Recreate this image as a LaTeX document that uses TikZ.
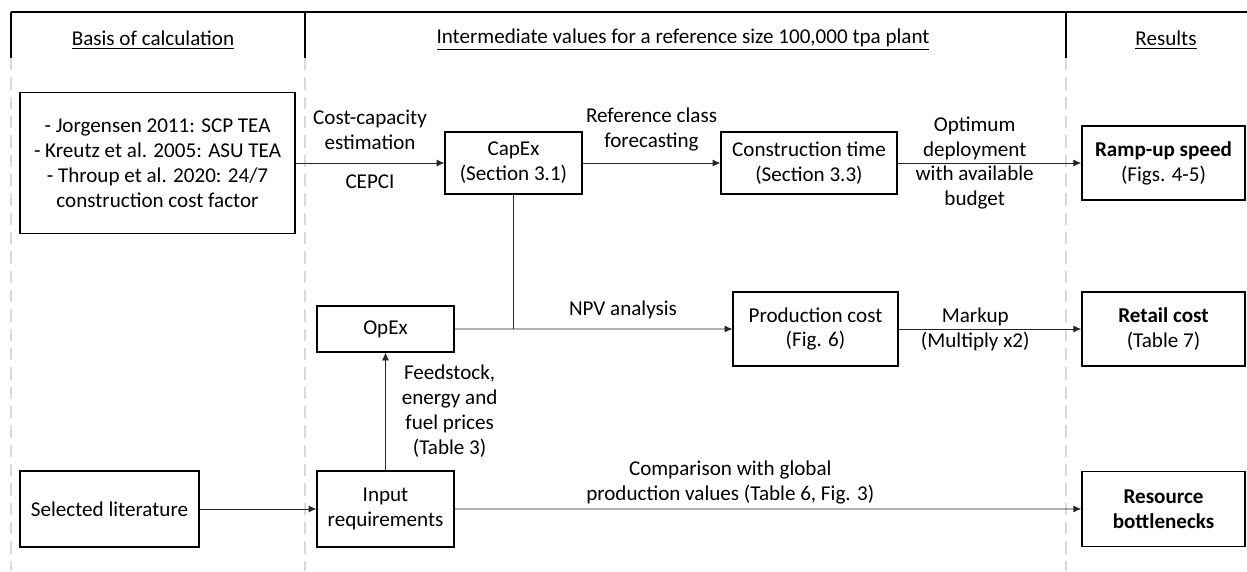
\documentclass[tikz,border=0pt]{standalone}
\usepackage{fontspec}
\setmainfont{Carlito}
\usetikzlibrary{positioning, arrows.meta}

\begin{document}
\begin{tikzpicture}[>={Latex[length=4.5pt,width=4pt]}, node distance=3cm, on grid,
    font=\fontsize{12}{14.2}\selectfont,
    box/.style={draw, line width=0.6pt, align=center, inner sep=0pt},
    result/.style={box, line width=0.9pt, minimum width=3.26cm},
    flow/.style={->, line width=0.5pt, draw=black!85},
    divider/.style={line width=1.1pt, black!15, dash pattern=on 7pt off 4pt}]
    \useasboundingbox (0,0) rectangle (24.94,-11.42);

    % header and column dividers
    \draw[line width=1.2pt] (0.22,-0.24) -- (24.94,-0.24);
    \draw[line width=1pt] (0.22,-0.24) -- (0.22,-1.16);
    \draw[line width=1pt] (6.1,-0.24) -- (6.1,-1.16);
    \draw[line width=1pt] (21.32,-0.24) -- (21.32,-1.16);
    \draw[divider] (0.22,-1.16) -- (0.22,-11.42);
    \draw[divider] (6.1,-1.16) -- (6.1,-11.42);
    \draw[divider] (21.32,-1.16) -- (21.32,-11.42);

    \node (hbasis) at (3.06,-0.8) {\underline{Basis of calculation}};
    \node (hinter) at (13.66,-0.8) {\underline{Intermediate values for a reference size 100,000 tpa plant}};
    \node (hres) at (23.32,-0.8) {\underline{Results}};

    % boxes
    \node[box, minimum width=5.5cm, minimum height=2.82cm] (basis) at (3.15,-3.26)
        {- Jorgensen 2011: SCP TEA \\ - Kreutz et al. 2005: ASU TEA \\ - Throup et al. 2020: 24/7 \\ construction cost factor};
    \node[box, minimum width=2.74cm, minimum height=1.24cm] (capex) [right=7.12cm of basis] {CapEx \\ (Section 3.1)};
    \node[box, minimum width=3.52cm, minimum height=1.24cm] (constr) [right=5.91cm of capex] {Construction time \\ (Section 3.3)};
    \node[result, minimum height=1.48cm] (ramp) [right=7.09cm of constr] {\textbf{Ramp-up speed} \\ (Figs. 4-5)};

    \node[box, minimum width=2.74cm, minimum height=0.92cm] (opex) at (7.71,-6.58) {OpEx};
    \node[box, minimum width=3.3cm, minimum height=1.48cm] (prod) [below right=3.32cm and 0.13cm of constr] {Production cost \\ (Fig. 6)};
    \node[result, minimum height=1.48cm] (retail) [below=3.32cm of ramp] {\textbf{Retail cost} \\ (Table 7)};

    \node[box, minimum width=2.74cm, minimum height=1.52cm] (input) [below=3.6cm of opex] {Input \\ requirements};
    \node[box, minimum width=3.58cm, minimum height=1.52cm] (sel) [left=5.52cm of input] {Selected literature};
    \node[result, minimum height=1.5cm, font=\fontsize{12}{14.2}\selectfont\bfseries] (res) [below=6.92cm of ramp] {Resource \\ bottlenecks};

    % connectors
    \coordinate (join) at (capex.south |- opex.east);
    \draw[flow] (basis) -- node[above=4pt, align=center] {Cost-capacity \\ estimation}
                            node[below=3pt] {CEPCI} (capex);
    \draw[flow] (capex) -- node[above=3pt, align=center] {Reference class \\ forecasting} (constr);
    \draw[flow] (constr) -- node[pos=0.42, align=center] {Optimum \\ deployment \\ with available \\ budget} (ramp);
    \draw[line width=0.5pt, draw=black!85] (capex) -- (join);
    \draw[flow] (opex) -- (join) -- node[above=2pt] {NPV analysis} (prod);
    \draw[flow] (prod) -- node[pos=0.42, align=center] {Markup \\ (Multiply x2)} (retail);
    \draw[flow] (input) -- node[anchor=west, xshift=0.2cm, align=center] {Feedstock, \\ energy and \\ fuel prices \\ (Table 3)} (opex);
    \draw[flow] (sel) -- (input);
    \draw[flow] (input) -- node[pos=0.44, above=-1pt, align=center] {Comparison with global \\ production values (Table 6, Fig. 3)} (res);
\end{tikzpicture}
\end{document}
